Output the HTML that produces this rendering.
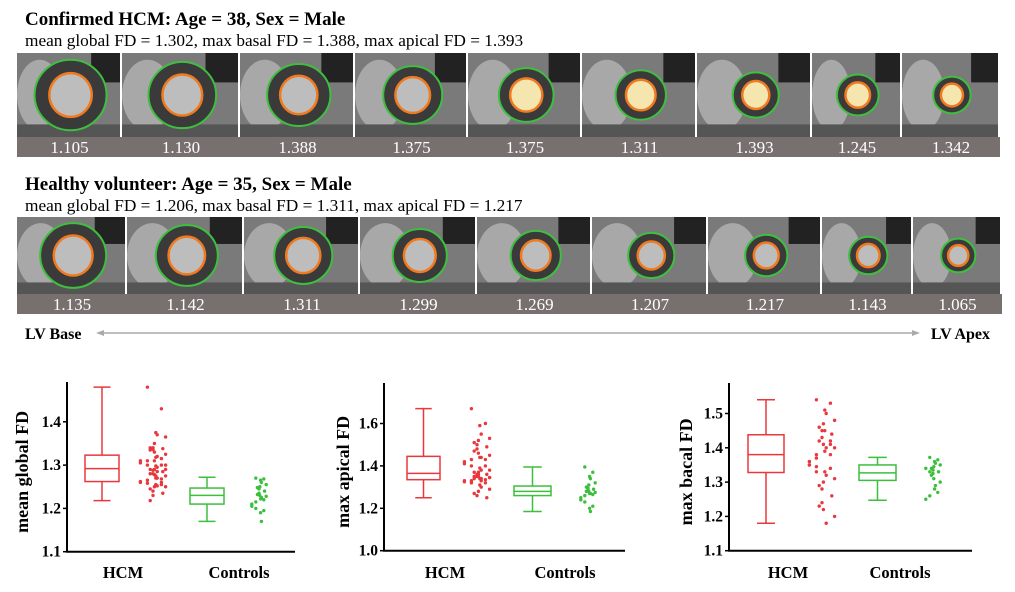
<!DOCTYPE html>
<html><head><meta charset="utf-8">
<style>
html,body{margin:0;padding:0;background:#fff;width:1015px;height:592px;overflow:hidden}
svg{display:block}
.serif{font-family:"Liberation Serif",serif}
</style></head>
<body>
<svg id="fig" width="1015" height="592" viewBox="0 0 1015 592" xmlns="http://www.w3.org/2000/svg">
<text x="25" y="25" class="serif" font-size="19" font-weight="bold">Confirmed HCM: Age = 38, Sex = Male</text>
<text x="25" y="46" class="serif" font-size="17.3">mean global FD = 1.302, max basal FD = 1.388, max apical FD = 1.393</text>
<text x="25" y="190" class="serif" font-size="19" font-weight="bold">Healthy volunteer: Age = 35, Sex = Male</text>
<text x="25" y="211" class="serif" font-size="17.3">mean global FD = 1.206, max basal FD = 1.311, max apical FD = 1.217</text>
<g id="row1"></g>
<g id="row2"></g>
<text x="25" y="339" class="serif" font-size="16" font-weight="bold">LV Base</text>
<line x1="100" y1="333" x2="915" y2="333" stroke="#aaa" stroke-width="1.5"/>
<path d="M96 333 L104 330 L104 336 Z" fill="#aaa"/>
<path d="M920 333 L912 330 L912 336 Z" fill="#aaa"/>
<text x="990" y="339" text-anchor="end" class="serif" font-size="16" font-weight="bold">LV Apex</text>
<g id="charts"></g>
</svg>
<script>
const row1Values = ["1.105","1.130","1.388","1.375","1.375","1.311","1.393","1.245","1.342"];
const row2Values = ["1.135","1.142","1.311","1.299","1.269","1.207","1.217","1.143","1.065"];
const row1Edges = [17,122,240,355,468,582,697,812,902,1000];
const row2Edges = [17,127,244,360,477,592,708,822,913,1002];
const NS="http://www.w3.org/2000/svg";
function mk(tag,attrs,parent){const e=document.createElementNS(NS,tag);for(const k in attrs)e.setAttribute(k,attrs[k]);parent.appendChild(e);return e;}
function strip(g,edges,vals,top,imgBot,bot,hcm){
  mk('rect',{x:edges[0],y:imgBot,width:edges[edges.length-1]-edges[0],height:bot-imgBot,fill:'#77706f'},g);
  for(let i=0;i<vals.length;i++){
    const x0=edges[i],x1=edges[i+1]-2,w=x1-x0,h=imgBot-top;
    const p=mk('g',{},g);
    
    
    mk('rect',{x:x0,y:top,width:w,height:h,fill:'#7a7a7a'},p);
    mk('ellipse',{cx:x0+w*0.22,cy:top+h*0.5,rx:w*0.22,ry:h*0.42,fill:'#a8a8a8'},p);
    mk('rect',{x:x0+w*0.72,y:top,width:w*0.28,height:h*0.35,fill:'#222'},p);
    mk('rect',{x:x0,y:top+h*0.85,width:w,height:h*0.15,fill:'#555'},p);
    const s=1-i*0.06,cx=x0+w*0.52,cy=top+h*0.5;
    const R=Math.min(w,h)*0.42*s;
    mk('ellipse',{cx:cx,cy:cy,rx:R*1.02,ry:R,fill:'#3a3a3a',stroke:'#3fbf3f','stroke-width':2},p);
    mk('ellipse',{cx:cx,cy:cy,rx:R*0.6,ry:R*0.62,fill:hcm&&i>=4?'#f5e6b0':'#bdbdbd',stroke:'#f07a20','stroke-width':2.5},p);
    const t=mk('text',{x:(x0+edges[i+1])/2,y:bot-4,'text-anchor':'middle','font-size':17,fill:'#fff','font-family':'Liberation Serif, serif'},g);
    
    
    t.textContent=vals[i];
  }
}
strip(document.getElementById('row1'),row1Edges,row1Values,53,137,157,true);
strip(document.getElementById('row2'),row2Edges,row2Values,217,294,314,false);

const groups = ["HCM","Controls"];
const c1Title="mean global FD", c1Ticks=[1.1,1.2,1.3,1.4];
const c1HcmBox=[1.218,1.262,1.292,1.323,1.48];
const c1CtrlBox=[1.17,1.21,1.23,1.247,1.272];
const c1HcmPts=[1.48,1.43,1.375,1.37,1.365,1.35,1.34,1.34,1.338,1.336,1.335,1.33,1.325,1.32,1.318,1.315,1.31,1.31,1.305,1.30,1.30,1.298,1.295,1.29,1.29,1.29,1.288,1.285,1.28,1.28,1.278,1.275,1.27,1.27,1.268,1.265,1.262,1.26,1.258,1.255,1.255,1.252,1.25,1.25,1.245,1.24,1.235,1.23,1.218,1.31,1.3,1.285,1.275,1.26];
const c1CtrlPts=[1.27,1.268,1.265,1.26,1.255,1.25,1.248,1.245,1.24,1.235,1.232,1.23,1.228,1.225,1.222,1.22,1.215,1.21,1.205,1.2,1.195,1.19,1.17];

const c2Title="max apical FD", c2Ticks=[1.0,1.2,1.4,1.6];
const c2HcmBox=[1.25,1.335,1.365,1.445,1.67];
const c2CtrlBox=[1.185,1.26,1.28,1.305,1.395];
const c2HcmPts=[1.67,1.6,1.59,1.55,1.53,1.52,1.51,1.5,1.49,1.48,1.47,1.46,1.45,1.44,1.44,1.43,1.43,1.42,1.41,1.4,1.4,1.39,1.38,1.38,1.37,1.37,1.36,1.36,1.355,1.35,1.35,1.345,1.34,1.34,1.335,1.33,1.33,1.325,1.32,1.32,1.31,1.3,1.29,1.28,1.27,1.26,1.25,1.35,1.34,1.36,1.345,1.33];
const c2CtrlPts=[1.395,1.37,1.35,1.34,1.32,1.31,1.3,1.295,1.29,1.285,1.28,1.28,1.275,1.27,1.27,1.265,1.26,1.25,1.24,1.23,1.21,1.2,1.185];

const c3Title="max bacal FD", c3Ticks=[1.1,1.2,1.3,1.4,1.5];
const c3HcmBox=[1.18,1.328,1.38,1.438,1.54];
const c3CtrlBox=[1.247,1.305,1.327,1.35,1.372];
const c3HcmPts=[1.54,1.53,1.51,1.5,1.48,1.47,1.46,1.45,1.44,1.43,1.42,1.41,1.4,1.4,1.39,1.38,1.37,1.36,1.35,1.345,1.34,1.33,1.32,1.31,1.3,1.29,1.28,1.26,1.24,1.23,1.22,1.2,1.18,1.45,1.42,1.38,1.36,1.35,1.33,1.41];
const c3CtrlPts=[1.372,1.365,1.36,1.355,1.35,1.345,1.34,1.335,1.33,1.325,1.32,1.31,1.3,1.29,1.28,1.27,1.26,1.25,1.34,1.33];

const charts=[
 {title:c1Title,ticks:c1Ticks,hb:c1HcmBox,cb:c1CtrlBox,hp:c1HcmPts,cp:c1CtrlPts,ax:67,axEnd:295,yBot:551.7,yMin:1.1,pxPer:433,yTop:382,boxH:[85,119],boxC:[190,224],dotH:153,dotC:259,labH:123,labC:239,titleX:28},
 {title:c2Title,ticks:c2Ticks,hb:c2HcmBox,cb:c2CtrlBox,hp:c2HcmPts,cp:c2CtrlPts,ax:384,axEnd:625,yBot:550.7,yMin:1.0,pxPer:212,yTop:383,boxH:[407,440],boxC:[514,551],dotH:477,dotC:588,labH:445,labC:565,titleX:349},
 {title:c3Title,ticks:c3Ticks,hb:c3HcmBox,cb:c3CtrlBox,hp:c3HcmPts,cp:c3CtrlPts,ax:729,axEnd:972,yBot:550.7,yMin:1.1,pxPer:343,yTop:383,boxH:[748,784],boxC:[859,896],dotH:822,dotC:933,labH:788,labC:900,titleX:692}
];
const root=document.getElementById('charts');
charts.forEach((c,ci)=>{
  const g=mk('g',{},root);
  
  
  const y=v=>c.yBot-(v-c.yMin)*c.pxPer;
  const ya=mk('line',{x1:c.ax,y1:c.yTop,x2:c.ax,y2:c.yBot,stroke:'#000','stroke-width':2},g);
  
  
  const xa=mk('line',{x1:c.ax-1,y1:c.yBot,x2:c.axEnd,y2:c.yBot,stroke:'#000','stroke-width':2},g);
  
  
  c.ticks.forEach(t=>{
    mk('line',{x1:c.ax-4,y1:y(t),x2:c.ax,y2:y(t),stroke:'#000','stroke-width':1.5},g);
    const tl=mk('text',{x:c.ax-6,y:y(t)+5,'text-anchor':'end','font-size':15.5,'font-weight':'bold','font-family':'Liberation Serif, serif'},g);
    
    
    tl.textContent=t.toFixed(1);
  });
  const tt=mk('text',{x:c.titleX,y:(c.yTop+c.yBot)/2+5,'text-anchor':'middle','font-size':18,'font-weight':'bold','font-family':'Liberation Serif, serif',transform:`rotate(-90 ${c.titleX} ${(c.yTop+c.yBot)/2+5})`},g);
  
  
  tt.textContent=c.title;
  [[c.hb,c.boxH,'#e8383d',c.hp,c.dotH,c.labH,groups[0]],[c.cb,c.boxC,'#3cbf3c',c.cp,c.dotC,c.labC,groups[1]]].forEach(([b,bx,col,pts,dx,lx,name])=>{
    const bg=mk('g',{stroke:col,'stroke-width':1.5,fill:'none'},g);
    
    
    const cx=(bx[0]+bx[1])/2,hw=(bx[1]-bx[0])*0.25;
    mk('line',{x1:cx,y1:y(b[4]),x2:cx,y2:y(b[3])},bg);
    mk('line',{x1:cx,y1:y(b[1]),x2:cx,y2:y(b[0])},bg);
    mk('line',{x1:cx-hw,y1:y(b[4]),x2:cx+hw,y2:y(b[4])},bg);
    mk('line',{x1:cx-hw,y1:y(b[0]),x2:cx+hw,y2:y(b[0])},bg);
    mk('rect',{x:bx[0],y:y(b[3]),width:bx[1]-bx[0],height:y(b[1])-y(b[3])},bg);
    mk('line',{x1:bx[0],y1:y(b[2]),x2:bx[1],y2:y(b[2])},bg);
    const dg=mk('g',{fill:col},g);
    
    
    pts.forEach((v,i)=>{
      const h=((i*i*31+i*17+5)%19)-9;
      const jit=h*(name==='HCM'?1.4:0.8);
      mk('circle',{cx:dx+jit,cy:y(v),r:1.7},dg);
    });
    const lab=mk('text',{x:lx,y:578,'text-anchor':'middle','font-size':16.5,'font-weight':'bold','font-family':'Liberation Serif, serif'},g);
    
    
    lab.textContent=name;
  });
});
</script>
</body></html>
